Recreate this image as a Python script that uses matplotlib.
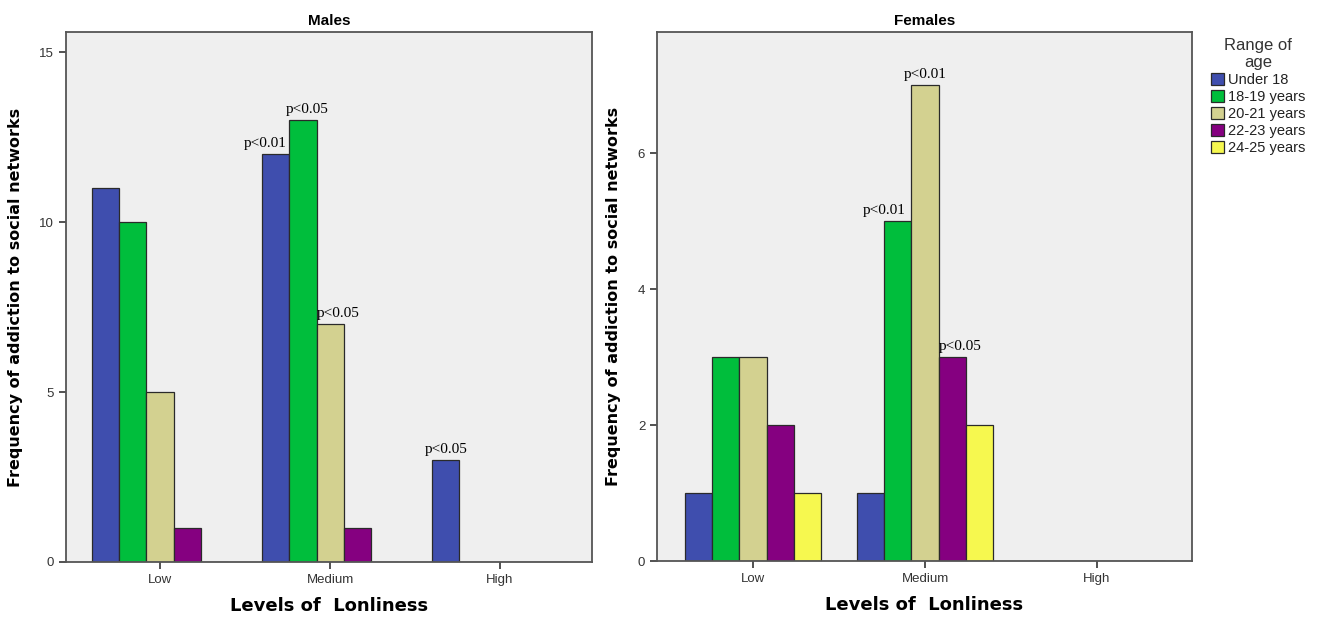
import matplotlib
matplotlib.use("Agg")
import matplotlib.pyplot as plt
import numpy as np

# data
levels = ["Low", "Medium", "High"]
age_groups = ["Under 18", "18-19 years", "20-21 years", "22-23 years", "24-25 years"]
colors = ["#3F4EAE", "#00BE3C", "#D3D190", "#850080", "#F6F84F"]

males = [
    [11, 12, 3],   # Under 18
    [10, 13, 0],   # 18-19
    [5, 7, 0],     # 20-21
    [1, 1, 0],     # 22-23
    [0, 0, 0],     # 24-25
]
females = [
    [1, 1, 0],
    [3, 5, 0],
    [3, 7, 0],
    [2, 3, 0],
    [1, 2, 0],
]

# (age group index, level index, text, x shift in bar widths)
males_notes = [(0, 1, "p<0.01", -0.4), (1, 1, "p<0.05", 0.15), (2, 1, "p<0.05", 0.3), (0, 2, "p<0.05", 0.0)]
females_notes = [(1, 1, "p<0.01", -0.5), (2, 1, "p<0.01", 0.0), (3, 1, "p<0.05", 0.3)]

plt.rcParams['font.family'] = ['Liberation Sans', 'DejaVu Sans']

fig = plt.figure(figsize=(13.17, 6.19), dpi=100)
ax1 = fig.add_axes([66 / 1317, 1 - 562 / 619, 526 / 1317, 530 / 619])
ax2 = fig.add_axes([657 / 1317, 1 - 561 / 619, 535 / 1317, 529 / 619])

width = 0.159
x = np.arange(len(levels))


def draw(ax, data, notes, title, ylim, yticks, xlim):
    ax.set_facecolor("#EFEFEF")
    for i, vals in enumerate(data):
        pos = x + (i - 2) * width
        ax.bar(pos, vals, width, color=colors[i], edgecolor="#2a2a2a", linewidth=0.9,
               label=age_groups[i], zorder=2)
    for gi, li, txt, dx in notes:
        xp = x[li] + (gi - 2) * width + dx * width
        ax.text(xp, data[gi][li] + ylim[1] * 0.008, txt, ha="center", va="bottom",
                fontsize=11, family="Liberation Serif")
    ax.set_xlim(*xlim)
    ax.set_ylim(*ylim)
    ax.set_yticks(yticks)
    ax.set_xticks(x)
    ax.set_xticklabels(levels)
    ax.tick_params(labelsize=9.5, colors="#333333", length=5, width=1.2)
    for s in ax.spines.values():
        s.set_color("#555555")
        s.set_linewidth(1.3)
    ax.set_title(title, fontsize=11, fontweight="bold", pad=5)
    ax.set_xlabel("Levels of  Lonliness", fontsize=13, fontweight="bold", family="DejaVu Sans", labelpad=8)
    ax.set_ylabel("Frequency of addiction to social networks", fontsize=11.5, fontweight="bold",
                  family="DejaVu Sans", labelpad=12)


draw(ax1, males, males_notes, "Males", (0, 15.59), [0, 5, 10, 15], (-0.553, 2.541))
draw(ax2, females, females_notes, "Females", (0, 7.78), [0, 2, 4, 6], (-0.558, 2.552))

leg = ax2.legend(loc="upper left", bbox_to_anchor=(1.025, 1.0), frameon=False, fontsize=10.5,
                 title="Range of\nage", title_fontsize=12, handlelength=0.9, handleheight=0.9,
                 handletextpad=0.25, labelspacing=0.2, borderaxespad=0.0)
leg.get_title().set_multialignment("center")
leg.get_title().set_color("#333333")
for t in leg.get_texts():
    t.set_color("#222222")

fig.savefig("out.png", dpi=100)
